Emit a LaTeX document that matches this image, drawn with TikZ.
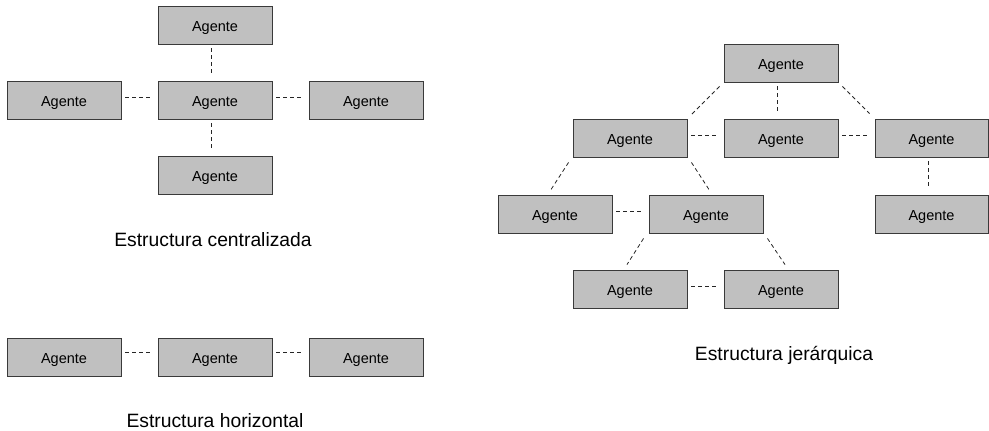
\documentclass[tikz,border=0pt]{standalone}
\usepackage{fontspec}
\setmainfont{Liberation Sans}
\usetikzlibrary{calc}
\definecolor{boxfill}{HTML}{C0C0C0}
\definecolor{boxline}{HTML}{3A3A3A}
\begin{document}
\begin{tikzpicture}[x=1pt,y=-1pt,
  agent/.style={draw=boxline,fill=boxfill,line width=0.9pt,minimum width=114pt,minimum height=38pt,inner sep=0pt,
    text height=13pt,text depth=0pt,font=\fontsize{14.5}{17}\selectfont},
  link/.style={draw=black!85,line width=0.8pt,dash pattern=on 4pt off 3pt},
  caption/.style={anchor=base,inner sep=0pt,font=\fontsize{19.3}{23}\selectfont}]
\useasboundingbox (0,0) rectangle (989,431);

% centralized structure
\node[agent] (ct) at (215,25) {Agente};
\node[agent] (cc) at (215,100) {Agente};
\node[agent] (cl) at (64,100) {Agente};
\node[agent] (cr) at (366,100) {Agente};
\node[agent] (cb) at (215,175) {Agente};
\draw[link] ($(ct.south)+(-4,4)$) -- ($(cc.north)+(-4,-7)$);
\draw[link] ($(cc.south)+(-4,4)$) -- ($(cb.north)+(-4,-7)$);
\draw[link] ($(cl.east)+(4,-3)$) -- ($(cc.west)+(-6,-3)$);
\draw[link] ($(cc.east)+(4,-3)$) -- ($(cr.west)+(-6,-3)$);
\node[caption] (capc) at (213,246) {Estructura centralizada};

% horizontal structure
\node[agent] (h1) at (64,357) {Agente};
\node[agent] (h2) at (215,357) {Agente};
\node[agent] (h3) at (366,357) {Agente};
\draw[link] ($(h1.east)+(4,-5)$) -- ($(h2.west)+(-6,-5)$);
\draw[link] ($(h2.east)+(4,-5)$) -- ($(h3.west)+(-6,-5)$);
\node[caption] (caph) at (215,427) {Estructura horizontal};

% hierarchical structure
\node[agent] (j0) at (781,63) {Agente};
\node[agent] (j1) at (630,138) {Agente};
\node[agent] (j2) at (781,138) {Agente};
\node[agent,minimum width=113pt] (j3) at (931.5,138) {Agente};
\node[agent] (j4) at (555,214) {Agente};
\node[agent] (j5) at (706,214) {Agente};
\node[agent,minimum width=113pt] (j6) at (931.5,214) {Agente};
\node[agent] (j7) at (630,289) {Agente};
\node[agent] (j8) at (781,289) {Agente};

\draw[link] ($(j0.south west)+(-4,4)$) -- ($(j1.north east)+(4,-4)$);
\draw[link] ($(j0.south)+(-4,4)$) -- ($(j2.north)+(-4,-7)$);
\draw[link] ($(j0.south east)+(4,4)$) -- ($(j3.north west)+(-5,-5)$);
\draw[link] ($(j1.east)+(4,-3)$) -- ($(j2.west)+(-6,-3)$);
\draw[link] ($(j2.east)+(4,-3)$) -- ($(j3.west)+(-6,-3)$);
\draw[link] ($(j3.south)+(-3,4)$) -- ($(j6.north)+(-3,-7)$);
\draw[link] ($(j1.south west)+(-4,5)$) -- ($(j4.north)+(-4,-5)$);
\draw[link] ($(j1.south east)+(4,5)$) -- ($(j5.north)+(3,-5)$);
\draw[link] ($(j4.east)+(4,-3)$) -- ($(j5.west)+(-6,-3)$);
\draw[link] ($(j5.south west)+(-5,5)$) -- ($(j7.north)+(-3,-5)$);
\draw[link] ($(j5.south east)+(4,5)$) -- ($(j8.north)+(4,-5)$);
\draw[link] ($(j7.east)+(4,-3)$) -- ($(j8.west)+(-6,-3)$);
\node[caption] (capj) at (784,360) {Estructura jerárquica};
\end{tikzpicture}
\end{document}
